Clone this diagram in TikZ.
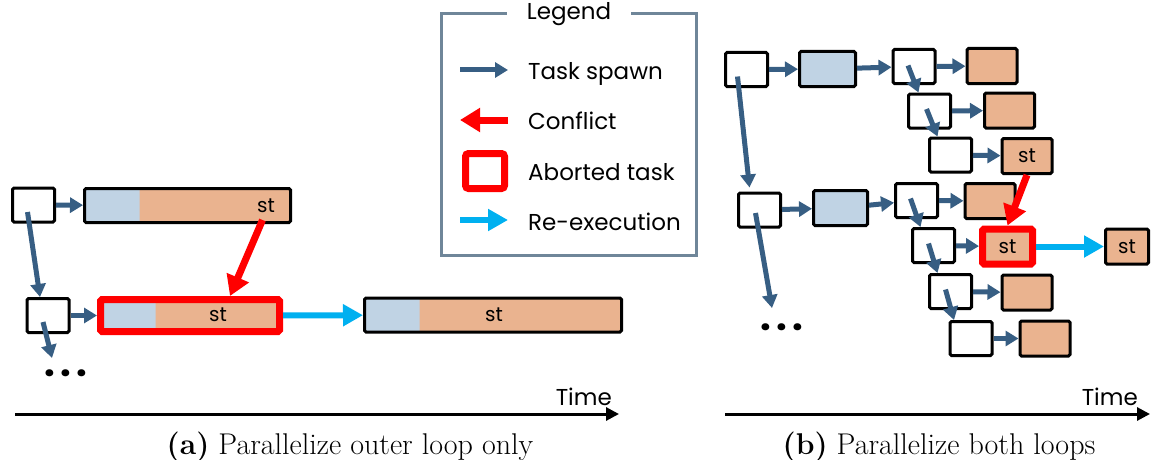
\documentclass[tikz,border=0pt]{standalone}
\usepackage{fontspec}
\newfontfamily\gothic{Poppins}
\usepackage{tikz}
\usetikzlibrary{calc}
\usetikzlibrary{arrows.meta}
\usetikzlibrary{positioning}
\definecolor{spawnblue}{RGB}{55,94,131}
\definecolor{taskblue}{RGB}{192,211,228}
\definecolor{taskorange}{RGB}{234,179,143}
\definecolor{conflictred}{RGB}{255,0,0}
\definecolor{reexeccyan}{RGB}{0,176,240}
\definecolor{legendgrey}{RGB}{111,134,153}
\newcommand\sttext{\gothic\fontsize{20}{22}\selectfont}

\begin{document}
\begin{tikzpicture}[x=1pt, y=-1pt,
  sub/.style={draw=black, line width=3pt, fill=white, rounded corners=1.5pt,
    minimum width=42pt, minimum height=34pt, inner sep=0pt},
  work/.style={sub, fill=taskorange, minimum width=50pt, minimum height=35pt, font=\sttext},
  outer/.style={sub, fill=taskblue, minimum width=56pt, minimum height=35pt},
  split/.style={sub, fill=taskorange, minimum height=34pt,
    path picture={\fill[taskblue] (path picture bounding box.south west)
      rectangle ([xshift=55pt]path picture bounding box.north west);}},
  aborted/.style={draw=conflictred, line width=7pt},
  spawn/.style={draw=spawnblue, line width=5pt, -{Triangle[length=13pt,width=15pt]}},
  conflict/.style={draw=conflictred, line width=7pt, -{Triangle[length=20pt,width=23pt]}},
  reexec/.style={draw=reexeccyan, line width=6pt, -{Triangle[length=20pt,width=21pt]}},
  timeaxis/.style={draw=black, line width=3pt, -{Triangle[length=13pt,width=13pt]}},
  txt/.style={font=\gothic\fontsize{23}{26}\selectfont, inner sep=0pt},
  dotstxt/.style={font=\gothic\bfseries\fontsize{38}{38}\selectfont, inner sep=0pt},
  sttxt/.style={font=\sttext, inner sep=0pt},
  captext/.style={font=\fontsize{30}{34}\selectfont, inner sep=0pt}]
  \useasboundingbox (0,0) rectangle (1151,460);

  % (a) outer loop only
  \node[sub] (a1) at (33.5,205) {};
  \node[split, minimum width=206pt] (b1) at (187.5,205.5) {};
  \node[sub] (a2) at (48,315.5) {};
  \node[split, aborted, minimum width=179pt, minimum height=32pt] (b2) at (190,315.5) {};
  \node[split, minimum width=257pt] (b3) at (493,315) {};
  \node[sttxt] (st1) at ($(b1.east)+(-26,0)$) {st};
  \node[sttxt] (st2) at ($(b2.center)+(28,-1)$) {st};
  \node[sttxt] (st3) at ($(b3.center)+(1,0)$) {st};
  \coordinate (enda) at (52,358);
  \node[dotstxt] (dotsa) at (66,373) {.\hspace{5pt}.\hspace{5pt}.};

  \draw[spawn] (a1) -- (b1);
  \draw[spawn] (a2) -- (b2);
  \draw[spawn] ($(a1.center)+(-6,7)$) -- ($(a2.north)+(-8,0)$);
  \draw[spawn] ($(a2.center)+(-5,6.5)$) -- (enda);
  \draw[conflict] ($(b1.south)+(75,-4)$) -- ($(b2.north)+(40,0)$);
  \draw[reexec] (b2) -- (b3);

  \coordinate (ta0) at (15,414);
  \coordinate (ta1) at (619,414);
  \draw[timeaxis] (ta0) -- (ta1);
  \node[txt, anchor=base east] (timea) at ($(ta1)+(-7,-9)$) {Time};
  \node[captext] (capa) at (350,447) {\textbf{(a)} Parallelize outer loop only};

  % legend
  \node[draw=legendgrey, line width=3pt, minimum width=255pt, minimum height=242pt] (legend) at (569,134.5) {};
  \node[txt, fill=white, inner xsep=20pt, inner ysep=2pt] (legendtitle) at (569,14) {Legend};
  \node[txt, anchor=base west] (lgspawn) at (528,80) {Task spawn};
  \node[txt, anchor=base west] (lgconflict) at (528,129) {Conflict};
  \node[txt, anchor=base west] (lgabort) at (528,180) {Aborted task};
  \node[txt, anchor=base west] (lgreexec) at (528,230) {Re-execution};
  \draw[spawn] ($(lgspawn.base west)+(-68,-10)$) -- ($(lgspawn.base west)+(-20,-10)$);
  \draw[conflict] ($(lgconflict.base west)+(-20,-9)$) -- ($(lgconflict.base west)+(-68,-9)$);
  \node[aborted, rounded corners=3pt, minimum width=39pt, minimum height=35pt, fill=white]
    (lgsquare) at ($(lgabort.base west)+(-43,-9)$) {};
  \draw[reexec] ($(lgreexec.base west)+(-68,-10)$) -- ($(lgreexec.base west)+(-20,-10)$);

  % (b) both loops
  \node[sub] (r0) at (746.5,69.5) {};
  \node[outer] (c1) at (827.5,69) {};
  \node[sub] (s0) at (914,66.5) {};
  \node[work] (o0) at (992,66) {};
  \node[sub] (s1) at (929.5,111) {};
  \node[work] (o1) at (1009.5,110.5) {};
  \node[sub] (s2) at (950.5,155) {};
  \node[work] (o2) at (1027,156) {st};
  \node[sub] (r1) at (759.5,210) {};
  \node[outer, minimum width=54pt] (c2) at (840.5,208) {};
  \node[sub] (t0) at (916.5,200.5) {};
  \node[work] (p0) at (990,201) {};
  \node[sub] (t1) at (933.5,245.5) {};
  \node[work, aborted] (p1) at (1007.5,246.5) {st};
  \node[work, minimum width=43pt] (p4) at (1127,246.5) {st};
  \node[sub] (t2) at (950.5,291.5) {};
  \node[work] (p2) at (1027,292.5) {};
  \node[sub] (t3) at (971,338.5) {};
  \node[work] (p3) at (1045,338.5) {};
  \coordinate (endb) at (772,308);
  \node[dotstxt] (dotsb) at (782,327) {.\hspace{5pt}.\hspace{5pt}.};

  \draw[spawn] (r0) -- (c1);
  \draw[spawn] (c1) -- (s0);
  \draw[spawn] (s0) -- (o0);
  \draw[spawn] (s1) -- (o1);
  \draw[spawn] (s2) -- (o2);
  \draw[spawn] (r1) -- (c2);
  \draw[spawn] (c2) -- (t0);
  \draw[spawn] (t0) -- (p0);
  \draw[spawn] (t1) -- (p1);
  \draw[spawn] (t2) -- (p2);
  \draw[spawn] (t3) -- (p3);
  \draw[spawn] ($(r0.center)+(-9,7)$) -- ($(r1.north)+(-10,-4)$);
  \draw[spawn] ($(r1.center)+(-4,3)$) -- (endb);
  \draw[spawn] ($(s0.center)+(-6,-1)$) -- ($(s1.north)+(-11,0)$);
  \draw[spawn] ($(s1.center)+(-3,-2)$) -- ($(s2.north)+(-13,0)$);
  \draw[spawn] ($(t0.center)+(-6,-2)$) -- ($(t1.north)+(-13,0)$);
  \draw[spawn] ($(t1.center)+(-5,-2)$) -- ($(t2.north)+(-13,0)$);
  \draw[spawn] ($(t2.center)+(-5,-2)$) -- ($(t3.north)+(-17,0)$);
  \draw[conflict] (o2.south) -- (p1.north);
  \draw[reexec] (p1) -- (p4);

  \coordinate (tb0) at (725,414);
  \coordinate (tb1) at (1150,414);
  \draw[timeaxis] (tb0) -- (tb1);
  \node[txt, anchor=base east] (timeb) at ($(tb1)+(-12,-9)$) {Time};
  \node[captext] (capb) at (939,447) {\textbf{(b)} Parallelize both loops};
\end{tikzpicture}
\end{document}
